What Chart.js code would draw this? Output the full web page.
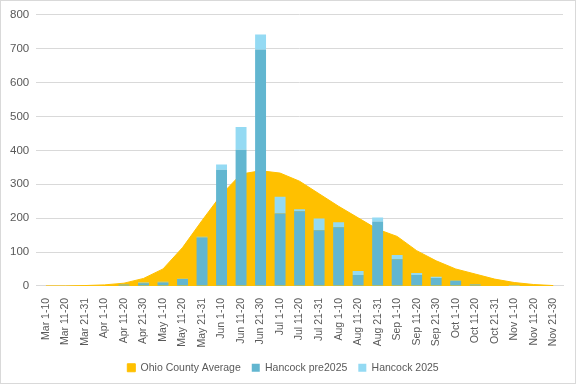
<!DOCTYPE html>
<html>
<head>
<meta charset="utf-8">
<script src="https://cdn.jsdelivr.net/npm/chart.js@4"></script>
<style>
  html, body { margin: 0; padding: 0; background: #fff; }
  .wrap { position: relative; width: 574px; height: 382px; border: 1px solid #d9d9d9; }
</style>
</head>
<body>
<div class="wrap"><canvas id="chart"></canvas></div>
<script>
'use strict';

// ── DATA ─────────────────────────────────────────────────────

const periods = [
  'Mar 1-10', 'Mar 11-20', 'Mar 21-31',
  'Apr 1-10', 'Apr 11-20', 'Apr 21-30',
  'May 1-10', 'May 11-20', 'May 21-31',
  'Jun 1-10', 'Jun 11-20', 'Jun 21-30',
  'Jul 1-10', 'Jul 11-20', 'Jul 21-31',
  'Aug 1-10', 'Aug 11-20', 'Aug 21-31',
  'Sep 1-10', 'Sep 11-20', 'Sep 21-30',
  'Oct 1-10', 'Oct 11-20', 'Oct 21-31',
  'Nov 1-10', 'Nov 11-20', 'Nov 21-30',
];

const ohioAverage = [0, 0, 1, 3, 8, 22, 50, 113, 193, 270, 330, 340, 333, 309, 272, 235,
                     201, 167, 146, 104, 74, 50, 35, 20, 10, 4, 1];

const hancockPre2025 = [0, 0, 0, 0, 4, 8, 10, 20, 143, 343, 402, 698, 214, 220, 164, 173,
                        32, 190, 79, 32, 23, 15, 4, 0, 0, 0, 0];

const hancock2025 = [0, 0, 0, 0, 0, 2, 2, 1, 2, 15, 67, 44, 49, 6, 35, 15,
                     12, 12, 12, 6, 4, 1, 1, 0, 3, 0, 0];

const yTicks = [0, 100, 200, 300, 400, 500, 600, 700, 800];

// ── STYLE ────────────────────────────────────────────────────

const FAMILY = "'Liberation Sans', sans-serif";
const FONT = { family: FAMILY, size: 11.5 };
const LEGEND_FONT = { family: FAMILY, size: 10.5 };
const TICK_X_FONT = { family: FAMILY, size: 10.5 };
const TEXT_COLOR = '#595959';
const GRID_COLOR = '#d9d9d9';

// ── CHART ────────────────────────────────────────────────────

new Chart(document.getElementById('chart'), {
  type: 'bar',
  data: {
    labels: periods,
    datasets: [
      {
        label: 'Ohio County Average',
        type: 'line',
        data: ohioAverage,
        backgroundColor: '#FFC000',
        borderColor: '#FFC000',
        borderWidth: 1,
        pointRadius: 0,
        tension: 0,
        fill: 'origin',
        stack: 'area',
        order: 2,
      },
      {
        label: 'Hancock pre2025',
        data: hancockPre2025,
        backgroundColor: '#62B6D0',
        stack: 'hancock',
        categoryPercentage: 1,
        barPercentage: 0.56,
        order: 1,
      },
      {
        label: 'Hancock 2025',
        data: hancock2025,
        backgroundColor: '#94DAF3',
        stack: 'hancock',
        categoryPercentage: 1,
        barPercentage: 0.56,
        order: 1,
      },
    ],
  },
  options: {
    responsive: true,
    maintainAspectRatio: false,
    animation: false,
    layout: { padding: { top: 7, right: 12, left: 2, bottom: 0 } },
    plugins: {
      legend: {
        position: 'bottom',
        labels: {
          font: LEGEND_FONT,
          color: TEXT_COLOR,
          boxWidth: 8,
          boxHeight: 8,
          padding: 11,
          sort: (a, b) => a.datasetIndex - b.datasetIndex,
        },
      },
      tooltip: { enabled: false },
    },
    scales: {
      x: {
        stacked: true,
        grid: { display: false },
        border: { color: GRID_COLOR },
        ticks: {
          font: TICK_X_FONT,
          color: TEXT_COLOR,
          autoSkip: false,
          maxRotation: 90,
          minRotation: 90,
          padding: 4,
        },
      },
      y: {
        stacked: true,
        min: 0,
        max: 800,
        afterBuildTicks: axis => { axis.ticks = yTicks.map(v => ({ value: v })); },
        grid: { color: GRID_COLOR, drawTicks: false },
        border: { display: false },
        ticks: { font: FONT, color: TEXT_COLOR, padding: 7 },
      },
    },
  },
});
</script>
</body>
</html>
